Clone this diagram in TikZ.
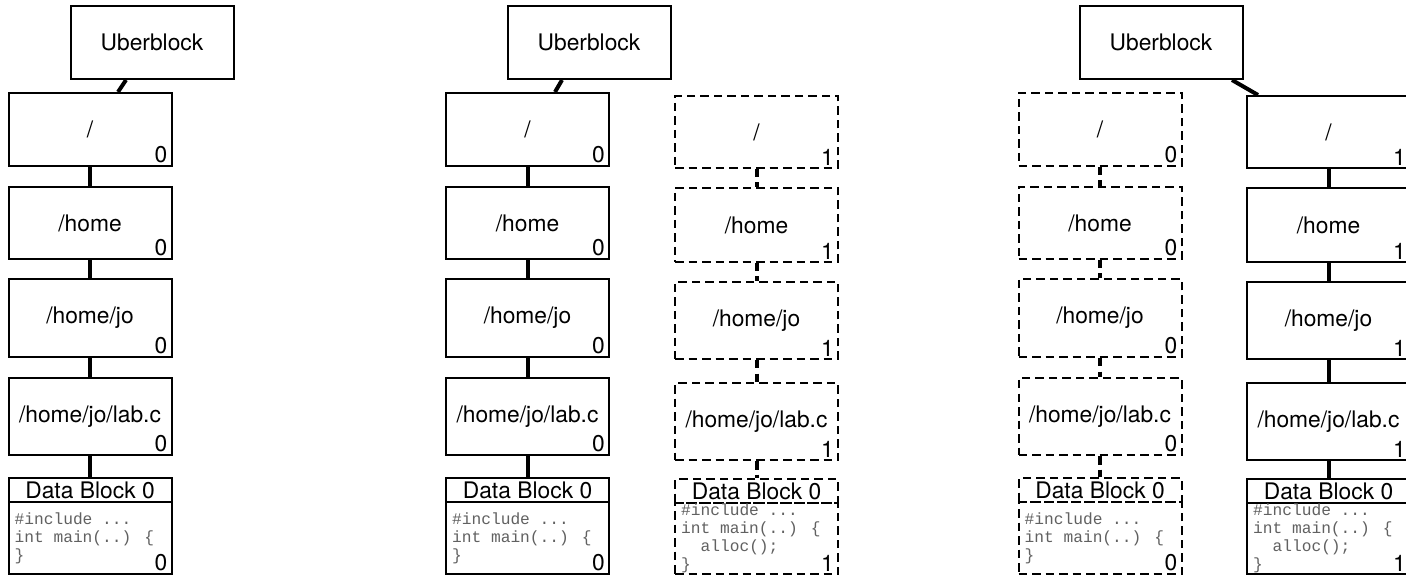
\documentclass[tikz,border=0pt]{standalone}
\usepackage{fontspec}
\setmainfont{TeX Gyre Heros}
\newfontfamily\codefnt{Liberation Mono}
\usetikzlibrary{calc}
\tikzset{
  blk/.style={draw, line width=2pt, inner sep=0pt, minimum width=163pt, font=\fontsize{22.8}{26}\selectfont},
  solidblk/.style={blk},
  dashblk/.style={blk, dash pattern=on 8.5pt off 5pt},
  link/.style={line width=4pt},
  solidlink/.style={link},
  dashlink/.style={link, dash pattern=on 8.5pt off 5pt},
  cntlab/.style={anchor=south east, inner sep=0pt, xshift=-5pt, yshift=3.5pt, font=\fontsize{22.8}{26}\selectfont},
  codetxt/.style={anchor=west, inner sep=0pt, align=left, text=black!62, font=\codefnt\fontsize{16.2}{18}\selectfont},
}
\newcommand\setL{\def\yA{129.5}\def\hA{73}\def\yB{223}\def\hB{72}\def\yC{318}\def\hC{78}\def\yD{416.5}\def\hD{77}\def\yE{490}\def\hE{24}\def\yF{538}\def\hF{72}}
\newcommand\setR{\def\yA{132}\def\hA{72}\def\yB{225}\def\hB{74}\def\yC{320.5}\def\hC{77}\def\yD{421.5}\def\hD{77}\def\yE{491}\def\hE{24}\def\yF{538.5}\def\hF{71}}
\newcommand\codeA{\#include ...\\int main(..) \{\\\}}
\newcommand\codeB{\#include ...\\int main(..) \{\\\hphantom{ii}alloc();\\\}}
\newcommand\fscol[6]{%
  \node[#3, minimum height=\hA, label={[cntlab]south east:#5}] (#1a) at (#2,\yA) {/};
  \node[#3, minimum height=\hB, label={[cntlab]south east:#5}] (#1b) at (#2,\yB) {/home};
  \node[#3, minimum height=\hC, label={[cntlab]south east:#5}] (#1c) at (#2,\yC) {/home/jo};
  \node[#3, minimum height=\hD, label={[cntlab]south east:#5}] (#1d) at (#2,\yD) {/home/jo/lab.c};
  \node[#3, minimum height=\hE] (#1e) at (#2,\yE) {Data Block 0};
  \node[#3, minimum height=\hF, label={[cntlab]south east:#5}] (#1f) at (#2,\yF) {};
  \node[codetxt] (#1t) at ([xshift=7pt]#1f.west) {#6};
  \draw[#4] (#1a.south) -- (#1b.north);
  \draw[#4] (#1b.south) -- (#1c.north);
  \draw[#4] (#1c.south) -- (#1d.north);
  \draw[#4] (#1d.south) -- (#1e.north);
}
\begin{document}
\begin{tikzpicture}[x=1pt,y=-1pt]
\clip (0,0) rectangle (1406,577);
\fill[white] (0,0) rectangle (1406,577);
% panel 1
\node[solidblk, minimum height=73] (ubA) at (152,42.5) {Uberblock};
\setL\fscol{pl}{90}{solidblk}{solidlink}{0}{\codeA}
\draw[link] ([xshift=-26pt]ubA.south) -- ([xshift=28pt]pla.north);
% panel 2
\node[solidblk, minimum height=73] (ubB) at (589,42.5) {Uberblock};
\setL\fscol{ql}{527.5}{solidblk}{solidlink}{0}{\codeA}
\setR\fscol{qr}{756.5}{dashblk}{dashlink}{1}{\codeB}
\draw[link] ([xshift=-27pt]ubB.south) -- ([xshift=27.5pt]qla.north);
% panel 3
\node[solidblk, minimum height=73] (ubC) at (1161,42.5) {Uberblock};
\setL\fscol{rl}{1100}{dashblk}{dashlink}{0}{\codeA}
\setR\fscol{rr}{1328.5}{solidblk}{solidlink}{1}{\codeB}
\draw[link] ([xshift=71pt]ubC.south) -- ([xshift=-70.5pt]rra.north);
\end{tikzpicture}
\end{document}
